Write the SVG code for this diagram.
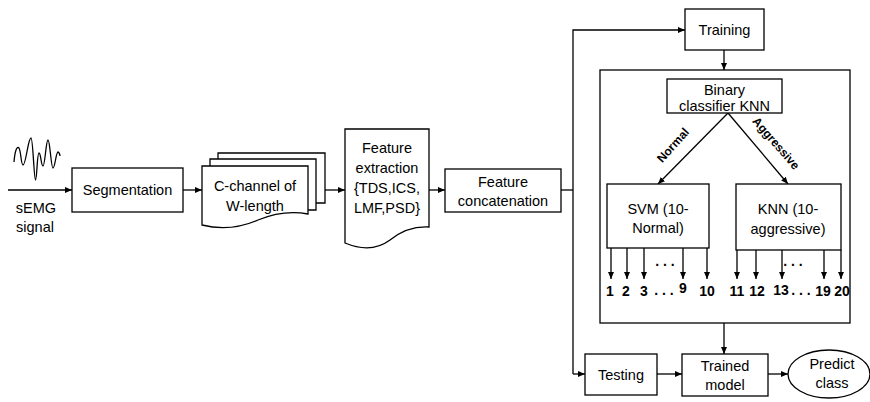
<svg xmlns="http://www.w3.org/2000/svg" width="870" height="402" viewBox="0 0 870 402">
<defs>
<marker id="ah" markerWidth="8" markerHeight="8" refX="7" refY="4" orient="auto" markerUnits="userSpaceOnUse">
<path d="M0,1 L7,4 L0,7 Z" fill="#000"/>
</marker>
<style>
.b{fill:#fff;stroke:#000;stroke-width:1.3}
.l{fill:none;stroke:#000;stroke-width:1.3}
.t{font-family:"Liberation Sans",Arial,sans-serif;font-size:14.5px;fill:#000;text-anchor:middle}
.n{font-family:"Liberation Sans",Arial,sans-serif;font-size:14px;font-weight:bold;fill:#000;text-anchor:middle}
.lb{font-family:"Liberation Sans",Arial,sans-serif;font-size:12px;font-weight:bold;fill:#000;text-anchor:middle}
</style>
</defs>
<rect width="870" height="402" fill="#fff"/>

<g id="signal">
<path class="l" stroke-width="1.6" d="M14,162 C15,150 17,146 19,148 C21,151 21,165 23,165 C26,165 28,138 31,138 C33,138 34,180 35.5,180 C37,180 37,153 39,153 C41,153 41,166 43,166 C45,166 46,140 48,140 C50,140 51,168 53,168 C55,168 56,152 58,152 C59,152 60,155 60,156"/>
<text class="t" x="36" y="213">sEMG</text>
<text class="t" x="35" y="232">signal</text>
</g>

<g id="connectors">
<line class="l" x1="8" y1="190" x2="72" y2="190" marker-end="url(#ah)"/>
<line class="l" x1="183" y1="190" x2="202" y2="190" marker-end="url(#ah)"/>
<line class="l" x1="325" y1="190" x2="345" y2="190" marker-end="url(#ah)"/>
<line class="l" x1="429" y1="190" x2="445" y2="190" marker-end="url(#ah)"/>
<polyline class="l" points="561,190 573,190"/>
<polyline class="l" points="573,374 573,30 685,30" marker-end="url(#ah)"/>
<line class="l" x1="573" y1="374" x2="585" y2="374" marker-end="url(#ah)"/>
<line class="l" x1="724" y1="50" x2="724" y2="70" marker-end="url(#ah)"/>
<line class="l" x1="728" y1="113" x2="658" y2="184" marker-end="url(#ah)"/>
<line class="l" x1="728" y1="113" x2="788" y2="184" marker-end="url(#ah)"/>
<line class="l" x1="611" y1="248" x2="611" y2="279" marker-end="url(#ah)"/>
<line class="l" x1="627" y1="248" x2="627" y2="279" marker-end="url(#ah)"/>
<line class="l" x1="644" y1="248" x2="644" y2="279" marker-end="url(#ah)"/>
<line class="l" x1="683" y1="248" x2="683" y2="279" marker-end="url(#ah)"/>
<line class="l" x1="707" y1="248" x2="707" y2="279" marker-end="url(#ah)"/>
<line class="l" x1="737" y1="250" x2="737" y2="279" marker-end="url(#ah)"/>
<line class="l" x1="756" y1="250" x2="756" y2="279" marker-end="url(#ah)"/>
<line class="l" x1="782" y1="250" x2="782" y2="279" marker-end="url(#ah)"/>
<line class="l" x1="824" y1="250" x2="824" y2="279" marker-end="url(#ah)"/>
<line class="l" x1="841" y1="250" x2="841" y2="279" marker-end="url(#ah)"/>
<line class="l" x1="724" y1="323" x2="724" y2="354" marker-end="url(#ah)"/>
<line class="l" x1="657" y1="374" x2="682" y2="374" marker-end="url(#ah)"/>
<line class="l" x1="768" y1="374" x2="788" y2="374" marker-end="url(#ah)"/>
</g>

<g id="segmentation">
<rect class="b" x="72" y="168" width="111" height="44"/>
<text class="t" x="127.5" y="195">Segmentation</text>
</g>

<g id="cchannel">
<path class="l" d="M218,159 V153 H325 V203 H316"/>
<path class="l" d="M210,166 V159 H316 V210 H308"/>
<path class="b" d="M202,166 H308 V214 C292,211 275,213 258,220 C242,227 222,230 202,225 Z"/>
<text class="t" x="255" y="191">C-channel of</text>
<text class="t" x="255" y="211">W-length</text>
</g>

<g id="featext">
<path class="b" d="M345,129 H429 V227 C412,226 400,232 390,240 C378,249 362,250 345,243 Z"/>
<text class="t" x="387" y="153">Feature</text>
<text class="t" x="387" y="173">extraction</text>
<text class="t" x="387" y="193">{TDS,ICS,</text>
<text class="t" x="387" y="213">LMF,PSD}</text>
</g>

<g id="featconcat">
<rect class="b" x="445" y="169" width="116" height="43"/>
<text class="t" x="503" y="187">Feature</text>
<text class="t" x="503" y="206">concatenation</text>
</g>

<g id="training">
<rect class="b" x="685" y="9" width="79" height="41"/>
<text class="t" x="724.5" y="35">Training</text>
</g>

<g id="bigbox">
<rect class="l" x="600" y="70" width="250" height="253"/>
</g>

<g id="binary">
<rect class="b" x="667" y="79" width="115" height="34"/>
<text class="t" x="724.5" y="95">Binary</text>
<text class="t" x="724.5" y="111">classifier KNN</text>
</g>

<g id="labels">
<text class="lb" transform="translate(676,148) rotate(-48)">Normal</text>
<text class="lb" transform="translate(773,146) rotate(49)">Aggressive</text>
</g>

<g id="svm">
<rect class="b" x="607" y="184" width="102" height="64"/>
<text class="t" x="658" y="214">SVM (10-</text>
<text class="t" x="658" y="233">Normal)</text>
</g>

<g id="knn">
<rect class="b" x="736" y="184" width="105" height="66"/>
<text class="t" x="788" y="214">KNN (10-</text>
<text class="t" x="788" y="234">aggressive)</text>
</g>

<g id="classes">
<text class="n" x="610" y="296">1</text>
<text class="n" x="626" y="296">2</text>
<text class="n" x="644" y="296">3</text>
<text class="n" x="664" y="295">. . .</text>
<text class="n" x="683" y="293">9</text>
<text class="n" x="707" y="296">10</text>
<text class="n" x="737" y="296">11</text>
<text class="n" x="757" y="296">12</text>
<text class="n" x="781" y="295">13</text>
<text class="n" x="801" y="295">. . .</text>
<text class="n" x="823" y="296">19</text>
<text class="n" x="842" y="296">20</text>
<text class="n" x="665" y="266">. . .</text>
<text class="n" x="793" y="266">. . .</text>
</g>

<g id="testing">
<rect class="b" x="585" y="354" width="72" height="41"/>
<text class="t" x="621" y="380">Testing</text>
</g>

<g id="trained">
<rect class="b" x="682" y="354" width="86" height="42"/>
<text class="t" x="725" y="371">Trained</text>
<text class="t" x="725" y="390">model</text>
</g>

<g id="predict">
<ellipse class="b" cx="829" cy="374" rx="41" ry="24"/>
<text class="t" x="832" y="369">Predict</text>
<text class="t" x="832" y="388">class</text>
</g>
</svg>
